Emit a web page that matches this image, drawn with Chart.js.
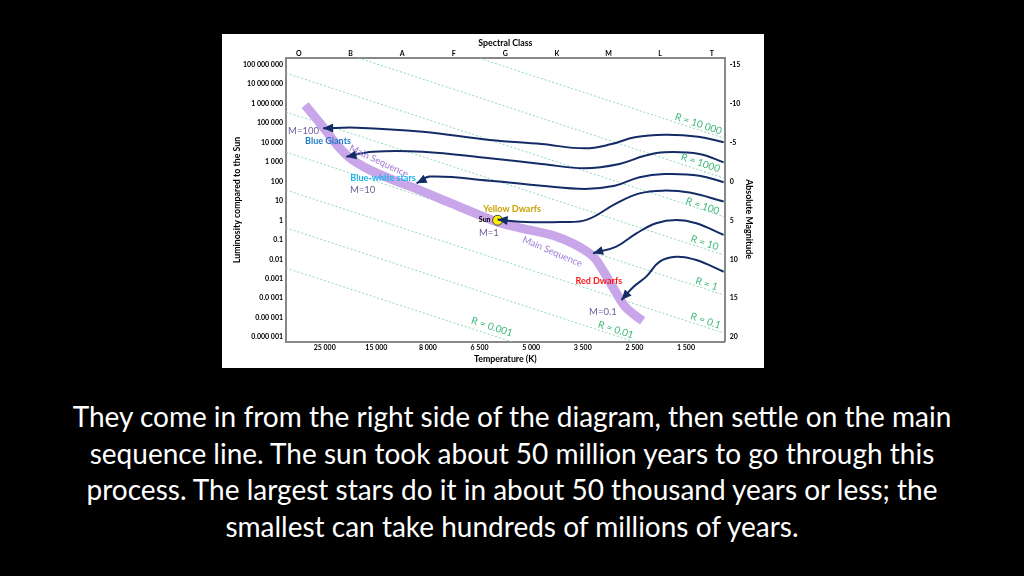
<!DOCTYPE html>
<html lang="en">
<head>
  <meta charset="UTF-8" />
  <title>Hertzsprung-Russell diagram</title>
  <script src="https://cdn.jsdelivr.net/npm/chart.js"></script>
  <style>
    body {
      margin: 0;
      width: 1024px;
      height: 576px;
      background: #000;
      overflow: hidden;
      font-family: Lato, "Open Sans", sans-serif;
    }

    .chart-box {
      position: absolute;
      left: 222px;
      top: 34px;
      width: 542px;
      height: 334px;
      background: #fff;
    }

    .caption {
      position: absolute;
      left: 0;
      top: 398px;
      width: 1024px;
      text-align: center;
      color: #fff;
      font-size: 28px;
      line-height: 36.7px;
    }
  </style>
</head>
<body>
  <div class="chart-box"><canvas id="hrChart"></canvas></div>
  <div class="caption">
    They come in from the right side of the diagram, then settle on the main<br>
    sequence line. The sun took about 50 million years to go through this<br>
    process. The largest stars do it in about 50 thousand years or less; the<br>
    smallest can take hundreds of millions of years.
  </div>

  <script>
    // axes: x is the spectral-class index (O = 0 ... T = 8), y is log10 of luminosity
    const spectralClasses = ['O', 'B', 'A', 'F', 'G', 'K', 'M', 'L', 'T'];
    const temperatures = ['25 000', '15 000', '8 000', '6 500', '5 000', '3 500', '2 500', '1 500'];
    const luminosityLabels = ['0.000 001', '0.00 001', '0.0 001', '0.001', '0.01', '0.1', '1', '10',
      '100', '1 000', '10 000', '100 000', '1 000 000', '10 000 000', '100 000 000'];
    const magnitudeLabels = ['-15', '-10', '-5', '0', '5', '10', '15', '20'];

    // constant-radius lines, log L at the left and right edge of the plot
    const radiusNames = ['R = 10 000', 'R = 1000', 'R = 100', 'R = 10', 'R = 1', 'R = 0.1', 'R = 0.01', 'R = 0.001'];
    const radiusLeft = [11.55, 9.55, 7.55, 5.55, 3.50, 1.55, -0.39, -2.45];
    const radiusRight = [4.2, 2.15, 0.17, -1.8, -3.85, -5.8, -7.75, -9.8];

    // main sequence band
    const mainSeqX = [0.12, 0.47, 0.74, 0.99, 1.32, 1.76, 2.34, 2.98, 3.89, 4.28, 5.00, 5.50, 5.73, 5.92, 6.12, 6.31, 6.48, 6.66];
    const mainSeqY = [5.91, 4.78, 3.86, 3.19, 2.66, 2.14, 1.55, 0.84, -0.13, -0.39, -0.85, -1.47, -1.93, -2.70, -3.60, -4.40, -4.81, -5.16];

    // protostar tracks, first point is the arrow tip on the main sequence
    const trackX = [
      [0.47, 1.12, 2.40, 3.70, 4.70, 5.54, 6.06, 6.51, 7.09, 7.74, 8.23],
      [0.92, 1.43, 2.40, 3.70, 4.70, 5.54, 6.21, 6.70, 7.08, 7.76, 8.23],
      [2.28, 2.54, 3.70, 4.70, 5.54, 6.12, 6.60, 7.08, 7.76, 8.23],
      [3.85, 4.28, 5.05, 5.57, 6.15, 6.60, 7.05, 7.57, 8.23],
      [5.70, 6.15, 6.54, 6.92, 7.31, 7.70, 8.23],
      [6.25, 6.48, 6.73, 6.99, 7.31, 7.70, 8.23]
    ];
    const trackY = [
      [4.72, 4.75, 4.54, 4.12, 3.91, 3.69, 3.91, 4.26, 4.39, 4.29, 4.00],
      [3.26, 3.52, 3.52, 3.18, 2.89, 2.67, 2.89, 3.31, 3.49, 3.40, 2.97],
      [1.90, 2.24, 2.03, 1.77, 1.61, 1.77, 2.21, 2.37, 2.29, 1.95],
      [0.04, -0.07, -0.09, 0.02, 0.87, 1.38, 1.52, 1.42, 0.96],
      [-1.69, -1.35, -0.67, -0.15, 0.02, -0.15, -0.75],
      [-4.09, -3.42, -2.89, -2.12, -1.87, -2.04, -2.64]
    ];

    const sunX = [3.85];
    const sunY = [0];

    // text notes placed in data units
    const notes = [
      { text: 'M=100', x: -0.21, y: 4.58, color: '#6e5b9b', font: '9.5px Lato', align: 'left' },
      { text: 'Blue Giants', x: 0.12, y: 4.07, color: '#1f7ac8', font: 'bold 9px Lato', align: 'left' },
      { text: 'Main Sequence', x: 1.55, y: 3.04, color: '#a07bd6', font: '9.5px Lato', rot: 25 },
      { text: 'Blue-white stars', x: 1.63, y: 2.15, color: '#1cb4ec', font: 'bold 9px Lato' },
      { text: 'M=10', x: 0.99, y: 1.55, color: '#6e5b9b', font: '9.5px Lato', align: 'left' },
      { text: 'Yellow Dwarfs', x: 4.13, y: 0.58, color: '#c9a000', font: 'bold 9px Lato' },
      { text: 'Sun', x: 3.60, y: 0.05, color: '#000', font: 'bold 7px Lato' },
      { text: 'M=1', x: 3.68, y: -0.64, color: '#6e5b9b', font: '9.5px Lato' },
      { text: 'Main Sequence', x: 4.91, y: -1.61, color: '#a07bd6', font: '9.5px Lato', rot: 23 },
      { text: 'Red Dwarfs', x: 5.81, y: -3.10, color: '#ff1a1a', font: 'bold 9px Lato' },
      { text: 'M=0.1', x: 5.89, y: -4.72, color: '#6e5b9b', font: '9.5px Lato' }
    ];
    const radiusNotePos = [[7.74, 4.94], [7.78, 2.94], [7.82, 0.73], [7.86, -1.16], [7.90, -3.27], [7.88, -5.16], [6.14, -5.62], [3.74, -5.47]];

    const navy = '#142c66';
    const datasets = [];

    radiusNames.forEach((name, i) => {
      datasets.push({
        label: name,
        data: [{ x: -0.25, y: radiusLeft[i] }, { x: 8.25, y: radiusRight[i] }],
        showLine: true,
        borderColor: '#8fd6bd',
        borderWidth: 1,
        borderDash: [2, 2],
        pointRadius: 0,
        order: 10
      });
      notes.push({ text: name, x: radiusNotePos[i][0], y: radiusNotePos[i][1], color: '#3cb878', font: '10px Lato', rot: 18 });
    });

    datasets.push({
      label: 'Main Sequence',
      data: mainSeqX.map((x, i) => ({ x, y: mainSeqY[i] })),
      showLine: true,
      borderColor: '#c9a6ea',
      borderWidth: 9,
      borderCapStyle: 'butt',
      cubicInterpolationMode: 'monotone',
      pointRadius: 0,
      order: 5
    });

    datasets.push({
      label: 'Sun',
      data: sunX.map((x, i) => ({ x, y: sunY[i] })),
      pointRadius: 5,
      backgroundColor: '#ffee00',
      borderColor: '#444',
      borderWidth: 1,
      order: 3
    });

    trackX.forEach((xs, t) => {
      datasets.push({
        label: 'track ' + (t + 1),
        data: xs.map((x, i) => ({ x, y: trackY[t][i] })),
        showLine: true,
        borderColor: navy,
        borderWidth: 2,
        tension: 0.4,
        pointRadius: 0,
        arrow: true,
        order: 1
      });
    });

    const notesPlugin = {
      id: 'notes',
      afterDatasetsDraw(chart) {
        const { ctx, scales } = chart;
        // arrow heads at the start of each track
        chart.data.datasets.forEach((ds, i) => {
          if (!ds.arrow) return;
          const pts = chart.getDatasetMeta(i).data;
          const p0 = pts[0];
          const tx = p0.cp2x !== undefined ? p0.cp2x : pts[1].x;
          const ty = p0.cp2y !== undefined ? p0.cp2y : pts[1].y;
          const ang = Math.atan2(p0.y - ty, p0.x - tx);
          ctx.save();
          ctx.translate(p0.x, p0.y);
          ctx.rotate(ang);
          ctx.fillStyle = navy;
          ctx.beginPath();
          ctx.moveTo(0, 0);
          ctx.lineTo(-10, -4.5);
          ctx.lineTo(-10, 4.5);
          ctx.closePath();
          ctx.fill();
          ctx.restore();
        });

        notes.forEach(n => {
          ctx.save();
          ctx.translate(scales.x.getPixelForValue(n.x), scales.y.getPixelForValue(n.y));
          ctx.rotate((n.rot || 0) * Math.PI / 180);
          ctx.font = n.font;
          ctx.fillStyle = n.color;
          ctx.textAlign = n.align || 'center';
          ctx.textBaseline = 'middle';
          ctx.fillText(n.text, 0, 0);
          ctx.restore();
        });

        // right axis title
        ctx.save();
        ctx.translate(527, 185);
        ctx.rotate(Math.PI / 2);
        ctx.font = 'bold 8.8px Lato';
        ctx.fillStyle = '#000';
        ctx.textAlign = 'center';
        ctx.textBaseline = 'middle';
        ctx.fillText('Absolute Magnitude', 0, 0);
        ctx.restore();
      }
    };

    const tickFont = { family: 'Lato', size: 7, weight: 'bold' };
    const titleFont = { family: 'Lato', size: 8.8, weight: 'bold' };
    const border = { display: true, color: '#888', width: 2 };

    new Chart(document.getElementById('hrChart'), {
      type: 'scatter',
      data: { datasets },
      plugins: [notesPlugin],
      options: {
        responsive: true,
        maintainAspectRatio: false,
        animation: false,
        layout: { padding: 0 },
        plugins: {
          legend: { display: false },
          tooltip: { enabled: false }
        },
        scales: {
          x: {
            type: 'linear',
            position: 'bottom',
            min: -0.25,
            max: 8.25,
            grid: { display: false, drawTicks: false },
            border,
            afterBuildTicks: s => { s.ticks = temperatures.map((t, i) => ({ value: i + 0.5 })); },
            afterFit: s => { s.height = 26.3; },
            ticks: {
              autoSkip: false, maxRotation: 0, padding: 2, color: '#000', font: tickFont,
              callback: (v, i) => temperatures[i]
            },
            title: { display: true, text: 'Temperature (K)', color: '#000', font: titleFont, padding: { top: 0, bottom: 3.6 } }
          },
          xTop: {
            type: 'linear',
            position: 'top',
            min: -0.25,
            max: 8.25,
            grid: { display: false, drawTicks: false },
            border,
            afterBuildTicks: s => { s.ticks = spectralClasses.map((c, i) => ({ value: i })); },
            afterFit: s => { s.height = 24.3; },
            ticks: {
              autoSkip: false, maxRotation: 0, padding: 0, color: '#000', font: tickFont,
              callback: (v, i) => spectralClasses[i]
            },
            title: { display: true, text: 'Spectral Class', color: '#000', font: titleFont, padding: { top: 4.1, bottom: 0 } }
          },
          y: {
            type: 'linear',
            position: 'left',
            min: -6.23,
            max: 8.31,
            grid: { display: false, drawTicks: false },
            border,
            afterBuildTicks: s => { s.ticks = luminosityLabels.map((l, i) => ({ value: i - 6 })); },
            afterFit: s => { s.width = 64; },
            ticks: {
              autoSkip: false, padding: 3, color: '#000', font: tickFont,
              callback: (v, i) => luminosityLabels[i]
            },
            title: { display: true, text: 'Luminosity compared to the Sun', color: '#000', font: titleFont, padding: { top: 9.7, bottom: 0 } }
          },
          y2: {
            type: 'linear',
            position: 'right',
            min: -6.23,
            max: 8.31,
            grid: { display: false, drawTicks: false },
            border,
            afterBuildTicks: s => { s.ticks = magnitudeLabels.map((m, i) => ({ value: 8 - 2 * i })); },
            afterFit: s => { s.width = 39.3; },
            ticks: {
              autoSkip: false, padding: 5, color: '#000', font: tickFont,
              callback: (v, i) => magnitudeLabels[i]
            }
          }
        }
      }
    });
  </script>
</body>
</html>
